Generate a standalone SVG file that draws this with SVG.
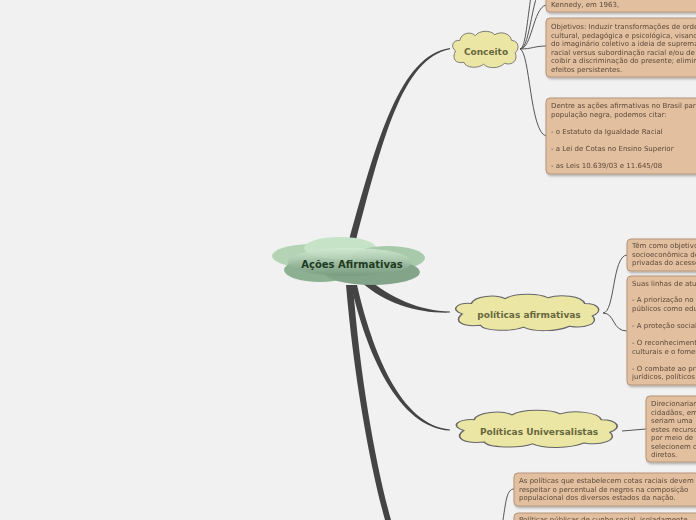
<svg xmlns="http://www.w3.org/2000/svg" width="696" height="520" viewBox="0 0 696 520">
<style>
.bg{fill:#f1f1f1}
.br{fill:#444}
.ln{fill:none;stroke:#555;stroke-width:1}
.cl{fill:#ece6a4;stroke:#666;stroke-width:1}
.ct{font-family:"DejaVu Sans",sans-serif;font-weight:bold;font-size:9px;fill:#67673f;text-anchor:middle}
.nt{fill:#e2bf9e;stroke:#b6957a;stroke-width:1}
.tx{font-family:"DejaVu Sans",sans-serif;font-size:7px;fill:#5b4a3c}
</style>
<defs>
<linearGradient id="g" x1="0" y1="0" x2="0" y2="1">
<stop offset="0" stop-color="#d2ebd3"/>
<stop offset="1" stop-color="#779a7d"/>
</linearGradient>
<filter id="sh" x="-10%" y="-10%" width="130%" height="140%">
<feDropShadow dx="1" dy="1.5" stdDeviation="1" flood-color="#000" flood-opacity="0.3"/>
</filter>
<path id="cloud" d="M 8 22 C 0 18, 4 10, 14 11 C 16 3, 30 1, 36 6 C 42 0, 58 0, 64 5 C 72 1, 86 3, 88 11 C 98 11, 100 20, 93 24 C 98 32, 88 38, 78 35 C 70 41, 54 41, 48 36 C 40 41, 22 40, 20 34 C 8 36, 2 30, 8 22 Z"/>
</defs>
<rect class="bg" x="0" y="0" width="696" height="520"/>
<g id="connectors">
<path class="br" d="M 349 240 C 377 140, 400 55, 450 48 L 450 49.2 C 402 58, 382 142, 356 240 Z"/>
<path class="br" d="M 366 277 C 390 298, 420 311, 450 311.5 L 450 312.6 C 418 313.5, 386 304, 361 282 Z"/>
<path class="br" d="M 357 285 C 372 350, 400 425, 450 429.5 L 450 430.6 C 398 428, 366 352, 351 285 Z"/>
<path class="br" d="M 346 285 C 354 380, 371 470, 385 520 L 391 520 C 377 470, 360 380, 353 285 Z"/>
<path class="ln" d="M 520 49 C 532 49, 533 8, 546 5"/>
<path class="ln" d="M 520 49 C 531 49, 531 -10, 546 -20"/>
<path class="ln" d="M 520 49 C 529 49, 528 -30, 546 -60"/>
<path class="ln" d="M 520 49 C 532 49, 535 46, 546 46"/>
<path class="ln" d="M 520 49 C 530 52, 530 132, 546 136"/>
<path class="ln" d="M 603 313 C 615 313, 612 256, 627 255"/>
<path class="ln" d="M 603 313 C 615 313, 612 331, 627 331"/>
<path class="ln" d="M 622 431 L 646 429"/>
<path class="ln" d="M 503 520 C 506 500, 507 489, 514 489"/>
</g>
<g id="central">
<ellipse cx="312" cy="256" rx="40" ry="12" fill="#b3d3b4"/>
<ellipse cx="340" cy="248" rx="36" ry="11" fill="#c6e3c8"/>
<ellipse cx="388" cy="258" rx="37" ry="12" fill="#a9c9ab"/>
<ellipse cx="320" cy="270" rx="36" ry="12" fill="#8db093"/>
<ellipse cx="372" cy="272" rx="48" ry="13" fill="#83a489"/>
<ellipse cx="350" cy="262" rx="62" ry="14" fill="url(#g)" opacity="0.85"/>
<text x="352" y="268" font-family="DejaVu Sans,sans-serif" font-weight="bold" font-size="10" fill="#1e3a22" text-anchor="middle">Ações Afirmativas</text>
</g>
<g id="conceito">
<use href="#cloud" class="cl" transform="translate(450 30) scale(0.7 0.95)"/>
<text class="ct" x="486" y="55">Conceito</text>
</g>
<g id="politicas-afirmativas">
<use href="#cloud" class="cl" transform="translate(450 293) scale(1.53 0.95)"/>
<text class="ct" x="529" y="318">políticas afirmativas</text>
</g>
<g id="politicas-universalistas">
<use href="#cloud" class="cl" transform="translate(450 409) scale(1.72 0.97)"/>
<text class="ct" x="539" y="435">Políticas Universalistas</text>
</g>
<g id="nota1" filter="url(#sh)">
<rect class="nt" x="546" y="-40" width="170" height="52" rx="4"/>
<text class="tx" x="551" y="7">Kennedy, em 1963,</text>
</g>
<g id="nota2" filter="url(#sh)">
<rect class="nt" x="546" y="18" width="170" height="59" rx="4"/>
<text class="tx"><tspan x="551" y="29">Objetivos: Induzir transformações de ordem</tspan><tspan x="551" y="37.5">cultural, pedagógica e psicológica, visando tirar</tspan><tspan x="551" y="46">do imaginário coletivo a ideia de supremacia</tspan><tspan x="551" y="54.5">racial versus subordinação racial e/ou de gênero;</tspan><tspan x="551" y="63">coibir a discriminação do presente; eliminar os</tspan><tspan x="551" y="71.5">efeitos persistentes.</tspan></text>
</g>
<g id="nota3" filter="url(#sh)">
<rect class="nt" x="546" y="98" width="170" height="76" rx="4"/>
<text class="tx"><tspan x="551" y="108">Dentre as ações afirmativas no Brasil para a</tspan><tspan x="551" y="116.5">população negra, podemos citar:</tspan><tspan x="551" y="134">- o Estatuto da Igualdade Racial</tspan><tspan x="551" y="151">- a Lei de Cotas no Ensino Superior</tspan><tspan x="551" y="168">- as Leis 10.639/03 e 11.645/08</tspan></text>
</g>
<g id="nota4" filter="url(#sh)">
<rect class="nt" x="627" y="239" width="90" height="32" rx="4"/>
<text class="tx"><tspan x="632" y="248">Têm como objetivo a</tspan><tspan x="632" y="256.5">socioeconômica de</tspan><tspan x="632" y="265">privadas do acesso</tspan></text>
</g>
<g id="nota5" filter="url(#sh)">
<rect class="nt" x="627" y="276" width="90" height="109" rx="4"/>
<text class="tx"><tspan x="632" y="286">Suas linhas de atuação</tspan><tspan x="632" y="302">- A priorização no</tspan><tspan x="632" y="310.5">públicos como educação</tspan><tspan x="632" y="328">- A proteção social</tspan><tspan x="632" y="345">- O reconhecimento</tspan><tspan x="632" y="353.5">culturais e o fomento</tspan><tspan x="632" y="370.5">- O combate ao preconceito</tspan><tspan x="632" y="379">jurídicos, políticos</tspan></text>
</g>
<g id="nota6" filter="url(#sh)">
<rect class="nt" x="646" y="396" width="70" height="66" rx="4"/>
<text class="tx"><tspan x="651" y="406">Direcionariam</tspan><tspan x="651" y="414.5">cidadãos, em</tspan><tspan x="651" y="423">seriam uma</tspan><tspan x="651" y="431.5">estes recursos</tspan><tspan x="651" y="440">por meio de</tspan><tspan x="651" y="448.5">selecionem o</tspan><tspan x="651" y="457">diretos.</tspan></text>
</g>
<g id="nota7" filter="url(#sh)">
<rect class="nt" x="514" y="473" width="200" height="33" rx="4"/>
<text class="tx"><tspan x="519" y="483">As políticas que estabelecem cotas raciais devem</tspan><tspan x="519" y="491.5">respeitar o percentual de negros na composição</tspan><tspan x="519" y="500">populacional dos diversos estados da nação.</tspan></text>
</g>
<g id="nota8" filter="url(#sh)">
<rect class="nt" x="514" y="513" width="200" height="40" rx="4"/>
<text class="tx"><tspan x="519" y="522">Políticas públicas de cunho social, isoladamente</tspan></text>
</g>
</svg>
